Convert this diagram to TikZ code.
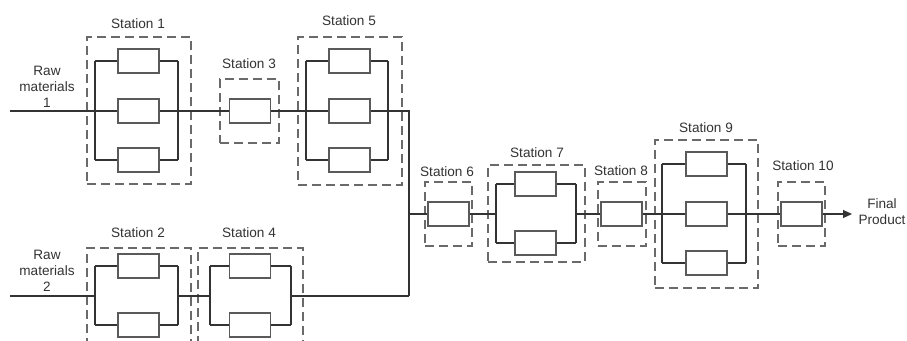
\documentclass[tikz,border=0pt]{standalone}
\usepackage{fontspec}
\setmainfont{Liberation Sans}
\usetikzlibrary{arrows.meta,fit}
\definecolor{wirec}{HTML}{333333}
\definecolor{boxc}{HTML}{5A5A5A}
\definecolor{dashc}{HTML}{6A6A6A}
\definecolor{textc}{HTML}{333333}
\begin{document}
\begin{tikzpicture}[x=0.75pt,y=-0.75pt,
  comp/.style={draw=boxc, line width=1pt, minimum width=30.75pt, minimum height=18pt, inner sep=0pt, fill=white},
  wire/.style={draw=wirec, line width=0.8pt},
  dashbox/.style={draw=dashc, line width=1pt, dash pattern=on 6.5pt off 4pt, inner sep=0pt},
  lab/.style={text=textc, font=\fontsize{10.2}{12}\selectfont, inner sep=0pt},
  raw/.style={text=textc, font=\fontsize{10.2}{12}\selectfont, align=center, inner sep=0pt}]
\path[use as bounding box, clip] (0,0) rectangle (907,340);
\fill[white] (0,0) rectangle (907,340);

% ---------- dashed station frames ----------
\node[dashbox, fit={(87,37) (191,184)}] (st1) {};
\node[dashbox, fit={(220,79) (279,143)}] (st3) {};
\node[dashbox, fit={(298,37) (402,185)}] (st5) {};
\node[dashbox, fit={(87,248) (191,370)}] (st2) {};
\node[dashbox, fit={(198,248) (303,370)}] (st4) {};
\node[dashbox, fit={(425,182) (472,246)}] (st6) {};
\node[dashbox, fit={(488,165) (585,262)}] (st7) {};
\node[dashbox, fit={(598,182) (646,246)}] (st8) {};
\node[dashbox, fit={(655,140) (758,288)}] (st9) {};
\node[dashbox, fit={(778,182) (825,246)}] (st10) {};

% ---------- labels ----------
\node[lab] (l1) at (138,24) {Station 1};
\node[lab] (l3) at (249,64) {Station 3};
\node[lab] (l5) at (349,21) {Station 5};
\node[lab] (l2) at (138,233) {Station 2};
\node[lab] (l4) at (249,233) {Station 4};
\node[lab] (l6) at (447,172) {Station 6};
\node[lab] (l7) at (537,153) {Station 7};
\node[lab] (l8) at (621,171) {Station 8};
\node[lab] (l9) at (706,128) {Station 9};
\node[lab] (l10) at (803,166) {Station 10};
\node[raw] (r1) at (47,87) {Raw\\materials\\1};
\node[raw] (r2) at (47,271) {Raw\\materials\\2};
\node[raw] (fp) at (882,212) {Final\\Product};

% ---------- coordinates ----------
\coordinate (in1) at (10,111);
\coordinate (in2) at (10,296);
\coordinate (s1L) at (95,111);  \coordinate (s1R) at (178,111);
\coordinate (s5L) at (306,111); \coordinate (s5R) at (388,111);
\coordinate (s2L) at (95,296);  \coordinate (s2R) at (178,296);
\coordinate (s4L) at (210,296); \coordinate (s4R) at (291,296);
\coordinate (s7L) at (496,214); \coordinate (s7R) at (576,214);
\coordinate (s9L) at (662,214); \coordinate (s9R) at (746,214);
\coordinate (jt) at (409,111);
\coordinate (jm) at (409,214);
\coordinate (jb) at (409,296);
\coordinate (out) at (852,214);

% ---------- components ----------
\node[comp] (c1a) at (138.5,61) {};
\node[comp] (c1b) at (138.5,111) {};
\node[comp] (c1c) at (138.5,160) {};
\node[comp] (c3) at (250,111) {};
\node[comp] (c5a) at (349.5,61) {};
\node[comp] (c5b) at (349.5,111) {};
\node[comp] (c5c) at (349.5,160) {};
\node[comp] (c2a) at (138.5,266) {};
\node[comp] (c2b) at (138.5,325) {};
\node[comp] (c4a) at (250,266) {};
\node[comp] (c4b) at (250,325) {};
\node[comp] (c6) at (448.5,214) {};
\node[comp] (c7a) at (535.5,184) {};
\node[comp] (c7b) at (535.5,243) {};
\node[comp] (c8) at (621.5,214) {};
\node[comp] (c9a) at (706.5,164) {};
\node[comp] (c9b) at (706.5,214) {};
\node[comp] (c9c) at (706.5,263) {};
\node[comp] (c10) at (801.5,214) {};

% ---------- wires ----------
% line 1
\draw[wire] (in1) -- (s1L);
\draw[wire] (s1L |- c1a.west) -- (s1L |- c1c.west);
\draw[wire] (s1R |- c1a.east) -- (s1R |- c1c.east);
\foreach \c in {c1a,c1b,c1c}
  \draw[wire] (s1L |- \c.west) -- (\c.west) (\c.east) -- (s1R |- \c.east);
\draw[wire] (s1R) -- (c3.west);
\draw[wire] (c3.east) -- (s5L);
\draw[wire] (s5L |- c5a.west) -- (s5L |- c5c.west);
\draw[wire] (s5R |- c5a.east) -- (s5R |- c5c.east);
\foreach \c in {c5a,c5b,c5c}
  \draw[wire] (s5L |- \c.west) -- (\c.west) (\c.east) -- (s5R |- \c.east);
\draw[wire] (s5R) -- (jt) -- (jb);
% line 2
\draw[wire] (in2) -- (s2L);
\draw[wire] (s2L |- c2a.west) -- (s2L |- c2b.west);
\draw[wire] (s2R |- c2a.east) -- (s2R |- c2b.east);
\foreach \c in {c2a,c2b}
  \draw[wire] (s2L |- \c.west) -- (\c.west) (\c.east) -- (s2R |- \c.east);
\draw[wire] (s2R) -- (s4L);
\draw[wire] (s4L |- c4a.west) -- (s4L |- c4b.west);
\draw[wire] (s4R |- c4a.east) -- (s4R |- c4b.east);
\foreach \c in {c4a,c4b}
  \draw[wire] (s4L |- \c.west) -- (\c.west) (\c.east) -- (s4R |- \c.east);
\draw[wire] (s4R) -- (jb);
% merged line
\draw[wire] (jm) -- (c6.west);
\draw[wire] (c6.east) -- (s7L);
\draw[wire] (s7L |- c7a.west) -- (s7L |- c7b.west);
\draw[wire] (s7R |- c7a.east) -- (s7R |- c7b.east);
\foreach \c in {c7a,c7b}
  \draw[wire] (s7L |- \c.west) -- (\c.west) (\c.east) -- (s7R |- \c.east);
\draw[wire] (s7R) -- (c8.west);
\draw[wire] (c8.east) -- (s9L);
\draw[wire] (s9L |- c9a.west) -- (s9L |- c9c.west);
\draw[wire] (s9R |- c9a.east) -- (s9R |- c9c.east);
\foreach \c in {c9a,c9b,c9c}
  \draw[wire] (s9L |- \c.west) -- (\c.west) (\c.east) -- (s9R |- \c.east);
\draw[wire] (s9R) -- (c10.west);
\draw[wire, -{Triangle[length=6.75pt,width=6pt]}] (c10.east) -- (out);
\end{tikzpicture}
\end{document}
